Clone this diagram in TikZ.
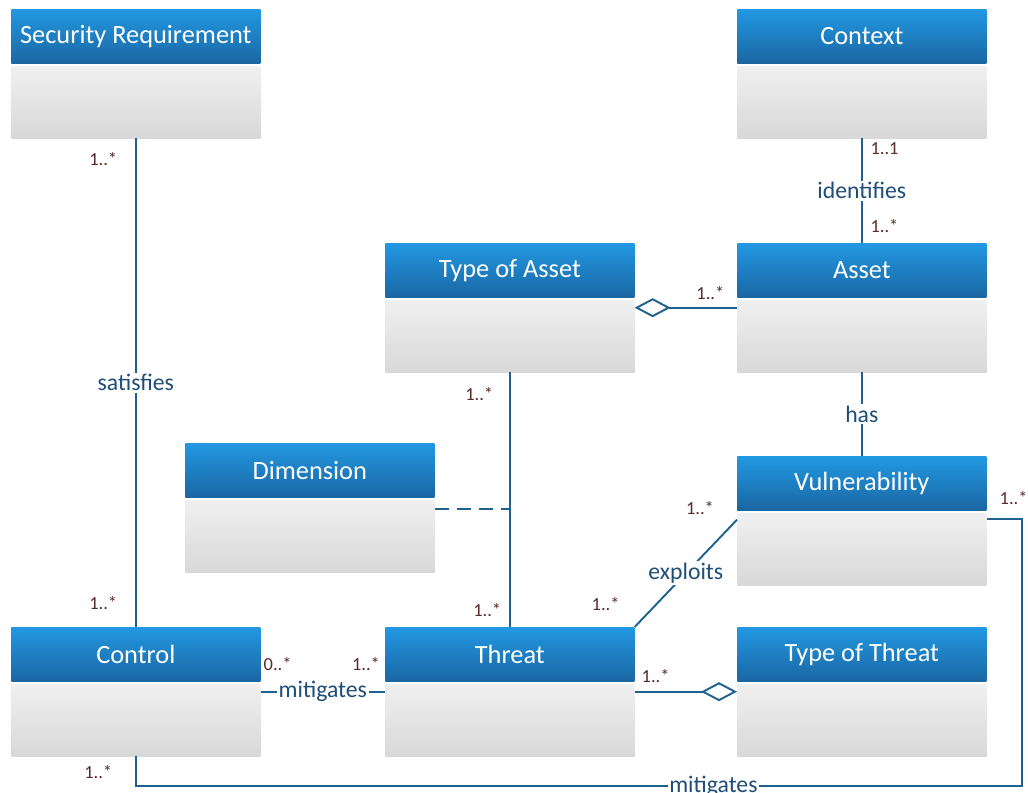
\documentclass[tikz,border=0pt]{standalone}
\usepackage{fontspec}
\setmainfont{Carlito}
\usepackage{tikz}
\usetikzlibrary{arrows.meta,positioning}

\definecolor{headtop}{HTML}{2298E2}
\definecolor{headbot}{HTML}{1A66A2}
\definecolor{bodytop}{HTML}{F0F0F0}
\definecolor{bodybot}{HTML}{D8D8D8}
\definecolor{linkblue}{HTML}{20628F}
\definecolor{labelblue}{HTML}{1F4E79}
\definecolor{multbrown}{HTML}{5C2B2B}

\begin{document}
\begin{tikzpicture}[
    x=0.02cm, y=-0.02cm,
    node distance=0.04cm,
    classhead/.style={
      rectangle, anchor=north west, inner sep=0pt,
      minimum width=4.98cm, minimum height=1.08cm,
      top color=headtop, bottom color=headbot,
      text=white, font=\fontsize{15}{18}\selectfont
    },
    classbody/.style={
      rectangle, inner sep=0pt,
      minimum width=4.98cm, minimum height=1.44cm,
      top color=bodytop, bottom color=bodybot
    },
    assoc/.style={draw=linkblue, line width=1.1pt},
    aggr/.style={assoc, {Diamond[open, length=0.72cm, width=0.38cm]}-},
    aggrend/.style={assoc, -{Diamond[open, length=0.72cm, width=0.38cm]}},
    lbl/.style={fill=white, text=labelblue, inner sep=1pt,
      font=\fontsize{13.5}{16}\selectfont},
    mult/.style={text=multbrown, inner sep=1pt,
      font=\fontsize{10.5}{12}\selectfont}
  ]
    \useasboundingbox (0,0) rectangle (1028,792);

    % ── Classes ──
    \node[classhead] (sr) at (11,9) {Security Requirement};
    \node[classbody, below=of sr] (srb) {};
    \node[classhead] (ctx) at (737,9) {Context};
    \node[classbody, below=of ctx] (ctxb) {};
    \node[classhead] (toa) at (385,243) {Type of Asset};
    \node[classbody, below=of toa] (toab) {};
    \node[classhead] (ast) at (737,243) {Asset};
    \node[classbody, below=of ast] (astb) {};
    \node[classhead] (dim) at (185,443) {Dimension};
    \node[classbody, below=of dim] (dimb) {};
    \node[classhead] (vul) at (737,456) {Vulnerability};
    \node[classbody, below=of vul] (vulb) {};
    \node[classhead] (ctl) at (11,627) {Control};
    \node[classbody, below=of ctl] (ctlb) {};
    \node[classhead] (thr) at (385,627) {Threat};
    \node[classbody, below=of thr] (thrb) {};
    \node[classhead] (tot) at (737,627) {Type of Threat};
    \node[classbody, below=of tot] (totb) {};

    % ── Associations ──
    \draw[assoc] (srb.south) -- node[lbl] (l1) {satisfies}
      node[mult, pos=0.043, left=0.32cm] (m1) {1..*}
      node[mult, pos=0.951, left=0.32cm] (m2) {1..*} (ctl.north);

    \draw[assoc] (ctxb.south) -- node[lbl] (l2) {identifies}
      node[mult, pos=0.10, right=0.12cm] (m3) {1..1}
      node[mult, pos=0.84, right=0.12cm] (m4) {1..*} (ast.north);

    \draw[aggr] ([yshift=-0.16cm]toab.north east) --
      node[mult, pos=1, above left=0.1cm and 0.2cm] (m5) {1..*}
      ([yshift=-0.16cm]astb.north west);

    \draw[assoc] (astb.south) -- node[lbl] (l3) {has} (vul.north);

    \draw[assoc] (toab.south) --
      node[mult, pos=0.086, left=0.28cm] (m6) {1..*}
      node[mult, pos=0.934, left=0.12cm] (m7) {1..*} (thr.north);

    \coordinate (dimj) at ([yshift=-0.18cm]dimb.north east);
    \draw[assoc, dash pattern=on 0.28cm off 0.16cm] (dimj) -- (dimj -| toab.south);

    \draw[assoc] (thr.north east) -- node[lbl] (l4) {exploits}
      node[mult, pos=0, xshift=-0.58cm, yshift=0.46cm] (m8) {1..*}
      node[mult, pos=1, xshift=-0.74cm, yshift=0.24cm] (m9) {1..*}
      ([yshift=-0.14cm]vulb.north west);

    \draw[assoc] ([yshift=-0.16cm]ctlb.north east) -- node[lbl] (l5) {mitigates}
      node[mult, pos=0, xshift=0.34cm, yshift=0.56cm] (m10) {0..*}
      node[mult, pos=1, xshift=-0.38cm, yshift=0.56cm] (m11) {1..*}
      ([yshift=-0.16cm]thrb.north west);

    \draw[aggrend] ([yshift=-0.16cm]thrb.north east) --
      node[mult, pos=0, xshift=0.42cm, yshift=0.32cm] (m12) {1..*}
      ([yshift=-0.16cm]totb.north west);

    \coordinate (vulj) at ([yshift=-0.12cm]vulb.north east);
    \draw[assoc] (ctlb.south) -- node[mult, pos=0.53, left=0.42cm] (m13) {1..*}
      ++(0,-0.6cm) -| node[lbl, pos=0.326] (l6) {mitigates}
      ([xshift=0.7cm]vulj) --
      node[mult, pos=1, xshift=0.54cm, yshift=0.42cm] (m14) {1..*} (vulj);

  \end{tikzpicture}
\end{document}
